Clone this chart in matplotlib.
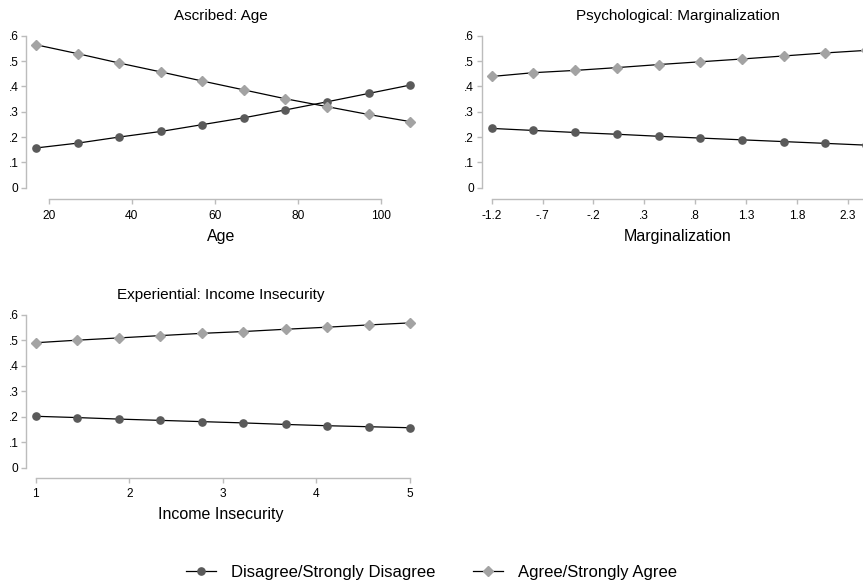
import matplotlib
matplotlib.use('Agg')
import matplotlib.pyplot as plt

# Predicted probabilities
age = [17, 27, 37, 47, 57, 67, 77, 87, 97, 107]
age_disagree = [0.157, 0.176, 0.200, 0.222, 0.249, 0.276, 0.307, 0.339, 0.372, 0.405]
age_agree = [0.564, 0.529, 0.492, 0.457, 0.421, 0.386, 0.351, 0.320, 0.289, 0.261]

marg = [-1.2, -0.79, -0.38, 0.03, 0.44, 0.85, 1.26, 1.67, 2.08, 2.48]
marg_disagree = [0.234, 0.226, 0.218, 0.211, 0.203, 0.196, 0.189, 0.182, 0.175, 0.168]
marg_agree = [0.439, 0.454, 0.463, 0.474, 0.486, 0.497, 0.508, 0.520, 0.532, 0.542]

income = [1, 1.44, 1.89, 2.33, 2.78, 3.22, 3.67, 4.11, 4.56, 5]
income_disagree = [0.202, 0.197, 0.191, 0.186, 0.181, 0.176, 0.170, 0.165, 0.161, 0.157]
income_agree = [0.491, 0.501, 0.510, 0.519, 0.528, 0.535, 0.544, 0.552, 0.561, 0.569]

y_ticks = [0, 0.1, 0.2, 0.3, 0.4, 0.5, 0.6]
y_labels = ['0', '.1', '.2', '.3', '.4', '.5', '.6']

series_names = ['Disagree/Strongly Disagree', 'Agree/Strongly Agree']

plt.rcParams['font.family'] = ['Liberation Sans', 'DejaVu Sans']

W, H = 863, 585
DARK = '#5a5a5a'
LIGHT = '#a3a3a3'
AXIS = '#bcbcbc'

fig = plt.figure(figsize=(W / 100, H / 100), dpi=100)


def place(ax, left, right, top, bottom, xa, xb, ya, yb):
    # position the axes and limits from pixel anchors (px, value)
    ax.set_position([left / W, 1 - bottom / H, (right - left) / W, (bottom - top) / H])
    sx = (xb[1] - xa[1]) / (xb[0] - xa[0])
    ax.set_xlim(xa[1] + (left - xa[0]) * sx, xa[1] + (right - xa[0]) * sx)
    sy = (yb[1] - ya[1]) / (ya[0] - yb[0])
    ax.set_ylim(ya[1] - (bottom - ya[0]) * sy, ya[1] + (ya[0] - top) * sy)


def panel(ax, x, dis, agr, title, xlabel, xticks, xlabels, xbound):
    ax.plot(x, dis, color='black', lw=0.9, marker='o', ms=5.2,
            mfc=DARK, mec=DARK, clip_on=False, label=series_names[0])
    ax.plot(x, agr, color='black', lw=0.9, marker='D', ms=4.6,
            mfc=LIGHT, mec=LIGHT, clip_on=False, label=series_names[1])
    ax.set_yticks(y_ticks)
    ax.set_yticklabels(y_labels)
    ax.set_xticks(xticks)
    ax.set_xticklabels(xlabels)
    for s in ['top', 'right']:
        ax.spines[s].set_visible(False)
    for s in ['left', 'bottom']:
        ax.spines[s].set_color(AXIS)
        ax.spines[s].set_linewidth(1.0)
    ax.spines['left'].set_bounds(0, 0.6)
    ax.spines['bottom'].set_bounds(*xbound)
    ax.tick_params(axis='both', colors=AXIS, labelcolor='black', labelsize=8.6,
                   length=3.5, width=1.0, pad=2)
    ax.tick_params(axis='x', pad=4)
    ax.set_title(title, fontsize=11, pad=7)
    ax.set_xlabel(xlabel, fontsize=11.5, labelpad=5)
    ax.patch.set_visible(False)


ax1 = fig.add_axes([0, 0, 1, 1])
place(ax1, 26, 416, 30, 199.3, (48.7, 20), (381, 100), (187.7, 0), (35.7, 0.6))
panel(ax1, age, age_disagree, age_agree, 'Ascribed: Age', 'Age',
      [20, 40, 60, 80, 100], ['20', '40', '60', '80', '100'], (20, 100))

ax2 = fig.add_axes([0, 0, 1, 1])
place(ax2, 481.7, 874, 30, 199.3, (491.7, -1.2), (847.7, 2.3), (187.7, 0), (35.7, 0.6))
panel(ax2, marg, marg_disagree, marg_agree, 'Psychological: Marginalization', 'Marginalization',
      [-1.2, -0.7, -0.2, 0.3, 0.8, 1.3, 1.8, 2.3],
      ['-1.2', '-.7', '-.2', '.3', '.8', '1.3', '1.8', '2.3'], (-1.2, 2.62))

ax3 = fig.add_axes([0, 0, 1, 1])
place(ax3, 26, 416, 309, 477.7, (35.7, 1), (410, 5), (467.7, 0), (315, 0.6))
panel(ax3, income, income_disagree, income_agree, 'Experiential: Income Insecurity', 'Income Insecurity',
      [1, 2, 3, 4, 5], ['1', '2', '3', '4', '5'], (1, 5))

handles, labels = ax1.get_legend_handles_labels()
fig.legend(handles, labels, loc='center', bbox_to_anchor=(0.5, 1 - 572 / H), ncol=2,
           frameon=False, fontsize=12, handlelength=1.8, handletextpad=0.9,
           columnspacing=2.2, borderaxespad=0)

fig.savefig('out.png', dpi=100)
